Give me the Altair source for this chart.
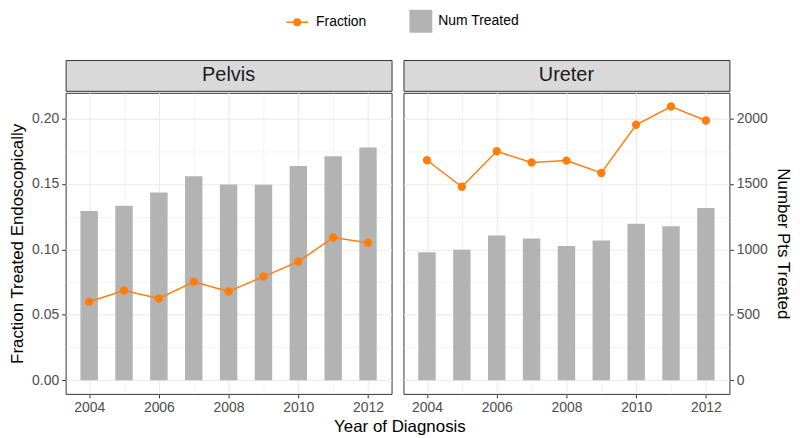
import altair as alt
import pandas as pd

years = [2004, 2005, 2006, 2007, 2008, 2009, 2010, 2011, 2012]
pelvis_num = [1293, 1334, 1435, 1559, 1496, 1493, 1637, 1711, 1779]
pelvis_frac = [0.0600, 0.0686, 0.0625, 0.0752, 0.0678, 0.0792, 0.0906, 0.1091, 0.1050]
ureter_num = [977, 997, 1106, 1083, 1025, 1068, 1195, 1177, 1316]
ureter_frac = [0.1681, 0.1478, 0.1749, 0.1663, 0.1678, 0.1584, 0.1952, 0.2091, 0.1985]
panels = ["Pelvis", "Ureter"]
x_ticks = [2004, 2005, 2006, 2007, 2008, 2009, 2010, 2011, 2012]
frac_ticks = [0, 0.025, 0.05, 0.075, 0.10, 0.125, 0.15, 0.175, 0.20]
num_ticks = [0, 250, 500, 750, 1000, 1250, 1500, 1750, 2000]

ORANGE = "#FF7F0E"
GREY = "#B3B3B3"
GRID = "#EBEBEB"
DARK = "#333333"
FONT = "Liberation Sans"
W, H, SH = 328, 303, 31
XDOM = [2003.325, 2012.675]
FDOM = [-0.01046, 0.2196]
NDOM = [-104.6, 2196.0]


def cond(test, minor, major):
    return {"condition": {"test": test, "value": minor}, "value": major}


def x_axis():
    t = "datum.value % 2 == 1"
    return alt.Axis(values=x_ticks, title=None, orient="bottom", grid=True,
                    gridColor=GRID, gridWidth=cond(t, 0.6, 1.1),
                    labelExpr="datum.value % 2 == 1 ? '' : format(datum.value, 'd')",
                    domain=False, tickColor=DARK, tickOpacity=cond(t, 0, 1),
                    tickSize=4, labelPadding=3, labelFontSize=14, labelColor="#4D4D4D")


def frac_axis():
    t = "round(datum.value * 40) % 2 == 1"
    return alt.Axis(values=frac_ticks, orient="left",
                    labelExpr="round(datum.value * 40) % 2 == 1 ? '' : format(datum.value, '.2f')",
                    title="Fraction Treated Endoscopically", grid=True,
                    gridColor=GRID, gridWidth=cond(t, 0.6, 1.1), domain=False,
                    tickColor=DARK, tickOpacity=cond(t, 0, 1),
                    tickSize=4, labelPadding=3, labelFontSize=14,
                    labelColor="#4D4D4D", titleFontSize=17, titleFontWeight="normal",
                    titleColor="black", titlePadding=5)


def num_axis():
    t = "datum.value % 500 != 0"
    return alt.Axis(values=num_ticks, orient="right",
                    labelExpr="datum.value % 500 != 0 ? '' : format(datum.value, 'd')",
                    title="Number Pts Treated", grid=True, gridColor=GRID,
                    gridWidth=cond(t, 0.6, 1.1), domain=False, tickColor=DARK,
                    tickOpacity=cond(t, 0, 1), tickSize=4,
                    labelPadding=3, labelFontSize=14, labelColor="#4D4D4D",
                    titleFontSize=17, titleFontWeight="normal", titleColor="black",
                    titlePadding=6)


def panel(name, num, frac, left):
    df = pd.DataFrame({"year": years, "num": num, "frac": frac})
    base = alt.Chart(df)
    bars = base.transform_calculate(
        x0="datum.year - 0.25", x1="datum.year + 0.25", series="'Num Treated'"
    ).mark_bar(color=GREY).encode(
        x=alt.X("x0:Q", scale=alt.Scale(domain=XDOM, nice=False, zero=False), axis=None),
        x2="x1:Q",
        y=alt.Y("num:Q", scale=alt.Scale(domain=NDOM, nice=False, zero=False),
                axis=None if left else num_axis()),
        y2=alt.datum(0),
        fill=alt.Fill("series:N", scale=alt.Scale(domain=["Num Treated"], range=[GREY]),
                      legend=alt.Legend(title=None, orient="none", legendX=346, legendY=-50.5,
                                        symbolType="square", symbolSize=529,
                                        symbolStrokeWidth=0, labelFontSize=14,
                                        labelColor="black", labelOffset=6, padding=0)),
    )
    line = base.transform_calculate(series="'Fraction'").mark_line(
        strokeWidth=1.5,
        point=alt.OverlayMarkDef(filled=True, size=42, fill=ORANGE),
    ).encode(
        x=alt.X("year:Q", scale=alt.Scale(domain=XDOM, nice=False, zero=False), axis=x_axis()),
        y=alt.Y("frac:Q", scale=alt.Scale(domain=FDOM, nice=False, zero=False),
                axis=frac_axis() if left else None),
        stroke=alt.Stroke("series:N", scale=alt.Scale(domain=["Fraction"], range=[ORANGE]),
                          legend=alt.Legend(title=None, orient="none", legendX=221, legendY=-50,
                                            symbolType="M-1,0L1,0M0.3,0A0.3,0.3,0,1,1,-0.3,0A0.3,0.3,0,1,1,0.3,0",
                                            symbolSize=484, symbolStrokeWidth=1.5,
                                            symbolFillColor=ORANGE, labelFontSize=14,
                                            labelColor="black", labelOffset=7, padding=0)),
    )
    plot = alt.layer(bars, line).resolve_scale(x="independent", y="independent").properties(
        width=W, height=H)
    strip = alt.Chart(pd.DataFrame({"panel": [name]})).mark_text(
        fontSize=20, color="#1A1A1A", font=FONT
    ).encode(text="panel:N").properties(
        width=W, height=SH, view=alt.ViewBackground(fill="#D9D9D9", stroke=DARK, strokeWidth=1))
    return alt.vconcat(strip, plot, spacing=0)


chart = alt.hconcat(
    panel(panels[0], pelvis_num, pelvis_frac, True),
    panel(panels[1], ureter_num, ureter_frac, False),
    spacing=10,
).resolve_scale(fill="shared", stroke="shared").properties(
    title=alt.TitleParams("Year of Diagnosis", orient="bottom", anchor="middle",
                          fontSize=17, fontWeight="normal", color="black", offset=4),
    padding={"left": 0, "top": 0, "right": 0, "bottom": 0},
).configure(font=FONT).configure_view(stroke=DARK, strokeWidth=1)

chart.save("out.html", embed_options={"renderer": "svg", "actions": False})
